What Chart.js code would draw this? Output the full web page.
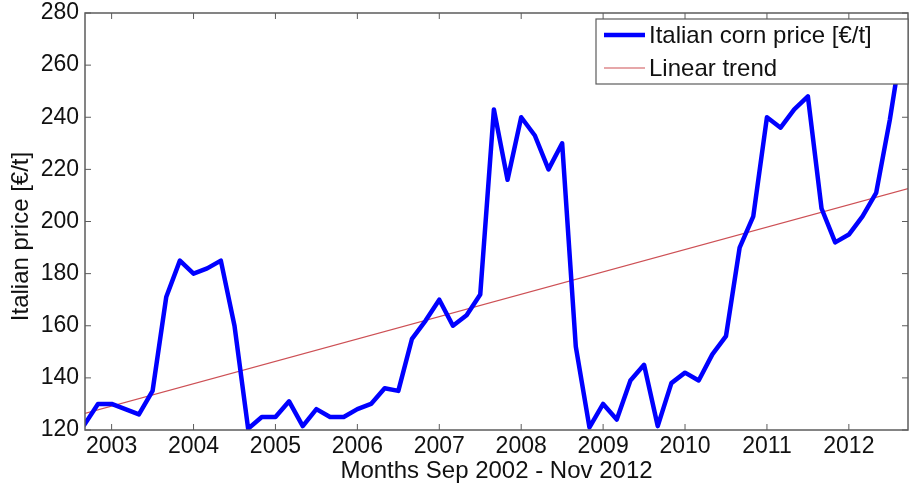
<!DOCTYPE html>
<html>
<head>
<meta charset="utf-8">
<script src="https://cdn.jsdelivr.net/npm/chart.js@4"></script>
<style>
  html, body { margin: 0; padding: 0; background: #fff; }
  canvas { display: block; }
</style>
</head>
<body>
<canvas id="c" width="909" height="488"></canvas>
<script>
// Bimonthly observation dates (YYYY-MM)
const months = [
  '2002-09', '2002-11',
  '2003-01', '2003-03', '2003-05', '2003-07', '2003-09', '2003-11',
  '2004-01', '2004-03', '2004-05', '2004-07', '2004-09', '2004-11',
  '2005-01', '2005-03', '2005-05', '2005-07', '2005-09', '2005-11',
  '2006-01', '2006-03', '2006-05', '2006-07', '2006-09', '2006-11',
  '2007-01', '2007-03', '2007-05', '2007-07', '2007-09', '2007-11',
  '2008-01', '2008-03', '2008-05', '2008-07', '2008-09', '2008-11',
  '2009-01', '2009-03', '2009-05', '2009-07', '2009-09', '2009-11',
  '2010-01', '2010-03', '2010-05', '2010-07', '2010-09', '2010-11',
  '2011-01', '2011-03', '2011-05', '2011-07', '2011-09', '2011-11',
  '2012-01', '2012-03', '2012-05', '2012-07', '2012-09', '2012-11'
];

// Italian corn price, EUR per tonne
const cornPrice = [
  122, 130,
  130, 128, 126, 135, 171, 185,
  180, 182, 185, 160, 120.5, 125,
  125, 131, 121.5, 128, 125, 125,
  128, 130, 136, 135, 155, 162,
  170, 160, 164, 172, 243, 216,
  240, 233, 220, 230, 152, 121,
  130, 124, 139, 145, 121.5, 138,
  142, 139, 149, 156, 190, 202,
  240, 236, 243, 248, 205, 192,
  195, 202, 211, 239, 272, 276
];

// Linear trend end points
const trendMonths = ['2002-09', '2012-11'];
const trendPrice = [126.3, 213.6];

const xTickYears = [2003, 2004, 2005, 2006, 2007, 2008, 2009, 2010, 2011, 2012];
const yTickValues = [120, 140, 160, 180, 200, 220, 240, 260, 280];

const seriesLabels = ['Italian corn price [€/t]', 'Linear trend'];
const xAxisTitle = 'Months Sep 2002 - Nov 2012';
const yAxisTitle = 'Italian price [€/t]';

function toYear(m) {
  const [y, mo] = m.split('-').map(Number);
  return y + (mo - 1) / 12;
}

const FONT = "'Liberation Sans', Arial, Helvetica, sans-serif";
const TEXT = '#111111';
const AXIS = '#5c5c5c';

// Box, inward tick marks, y-axis title and the in-plot legend
const framePlugin = {
  id: 'frame',
  afterDatasetsDraw(chart) {
    const { ctx, chartArea: a, scales: { x, y } } = chart;
    ctx.save();

    ctx.strokeStyle = AXIS;
    ctx.lineWidth = 1.5;
    ctx.strokeRect(a.left, a.top, a.right - a.left, a.bottom - a.top);

    const L = 6;
    ctx.lineWidth = 1;
    ctx.beginPath();
    x.ticks.forEach(t => {
      const px = x.getPixelForValue(t.value);
      ctx.moveTo(px, a.bottom); ctx.lineTo(px, a.bottom - L);
      ctx.moveTo(px, a.top); ctx.lineTo(px, a.top + L);
    });
    y.ticks.forEach(t => {
      const py = y.getPixelForValue(t.value);
      ctx.moveTo(a.left, py); ctx.lineTo(a.left + L, py);
      ctx.moveTo(a.right, py); ctx.lineTo(a.right - L, py);
    });
    ctx.stroke();

    // y-axis title
    ctx.save();
    ctx.translate(a.left - 64, (a.top + a.bottom) / 2 + 15);
    ctx.rotate(-Math.PI / 2);
    ctx.fillStyle = TEXT;
    ctx.font = '24px ' + FONT;
    ctx.textAlign = 'center';
    ctx.textBaseline = 'middle';
    ctx.fillText(yAxisTitle, 0, 0);
    ctx.restore();

    // legend
    const boxLeft = a.right - 312, boxTop = a.top + 6, boxH = 65;
    ctx.fillStyle = '#ffffff';
    ctx.fillRect(boxLeft, boxTop, a.right - boxLeft, boxH);
    ctx.strokeStyle = AXIS;
    ctx.lineWidth = 1.2;
    ctx.strokeRect(boxLeft, boxTop, a.right - boxLeft, boxH);
    ctx.font = '24px ' + FONT;
    ctx.textAlign = 'left';
    ctx.textBaseline = 'middle';
    chart.data.datasets.forEach((ds, i) => {
      const ry = boxTop + 16 + i * 33;
      ctx.strokeStyle = ds.borderColor;
      ctx.lineWidth = ds.borderWidth;
      ctx.beginPath();
      ctx.moveTo(boxLeft + 8, ry);
      ctx.lineTo(boxLeft + 49, ry);
      ctx.stroke();
      ctx.fillStyle = TEXT;
      ctx.fillText(ds.label, boxLeft + 53, ry + 1);
    });

    ctx.restore();
  }
};

new Chart(document.getElementById('c'), {
  type: 'line',
  data: {
    datasets: [
      {
        label: seriesLabels[0],
        data: months.map((m, i) => ({ x: toYear(m), y: cornPrice[i] })),
        borderColor: '#0000ff',
        borderWidth: 4.5,
        borderJoinStyle: 'round',
        borderCapStyle: 'round',
        pointRadius: 0,
        tension: 0,
        fill: false
      },
      {
        label: seriesLabels[1],
        data: trendMonths.map((m, i) => ({ x: toYear(m), y: trendPrice[i] })),
        borderColor: 'rgb(205, 80, 85)',
        borderWidth: 1.2,
        pointRadius: 0,
        tension: 0,
        fill: false
      }
    ]
  },
  options: {
    responsive: false,
    animation: false,
    devicePixelRatio: 1,
    layout: { padding: { top: 13, right: 1, left: 0, bottom: 0 } },
    plugins: { legend: { display: false }, tooltip: { enabled: false } },
    scales: {
      x: {
        type: 'linear',
        min: 2002.675,
        max: 2012.722,
        afterBuildTicks: s => { s.ticks = xTickYears.map(v => ({ value: v })); },
        afterFit: s => { s.height = 58; s.paddingLeft = 0; s.paddingRight = 0; },
        grid: { display: false, drawTicks: false },
        border: { display: false },
        ticks: {
          font: { family: FONT, size: 23 },
          color: TEXT,
          padding: 3,
          maxRotation: 0,
          autoSkip: false,
          callback: v => String(v)
        },
        title: {
          display: true,
          text: xAxisTitle,
          font: { family: FONT, size: 24 },
          color: TEXT,
          padding: { top: 0, bottom: 2 }
        }
      },
      y: {
        min: 120,
        max: 280,
        afterBuildTicks: s => { s.ticks = yTickValues.map(v => ({ value: v })); },
        afterFit: s => { s.width = 85; s.paddingTop = 0; s.paddingBottom = 0; },
        grid: { display: false, drawTicks: false },
        border: { display: false },
        ticks: {
          font: { family: FONT, size: 23 },
          color: TEXT,
          padding: 6,
          autoSkip: false,
          callback: v => String(v)
        },
        title: { display: false }
      }
    }
  },
  plugins: [framePlugin]
});
</script>
</body>
</html>
